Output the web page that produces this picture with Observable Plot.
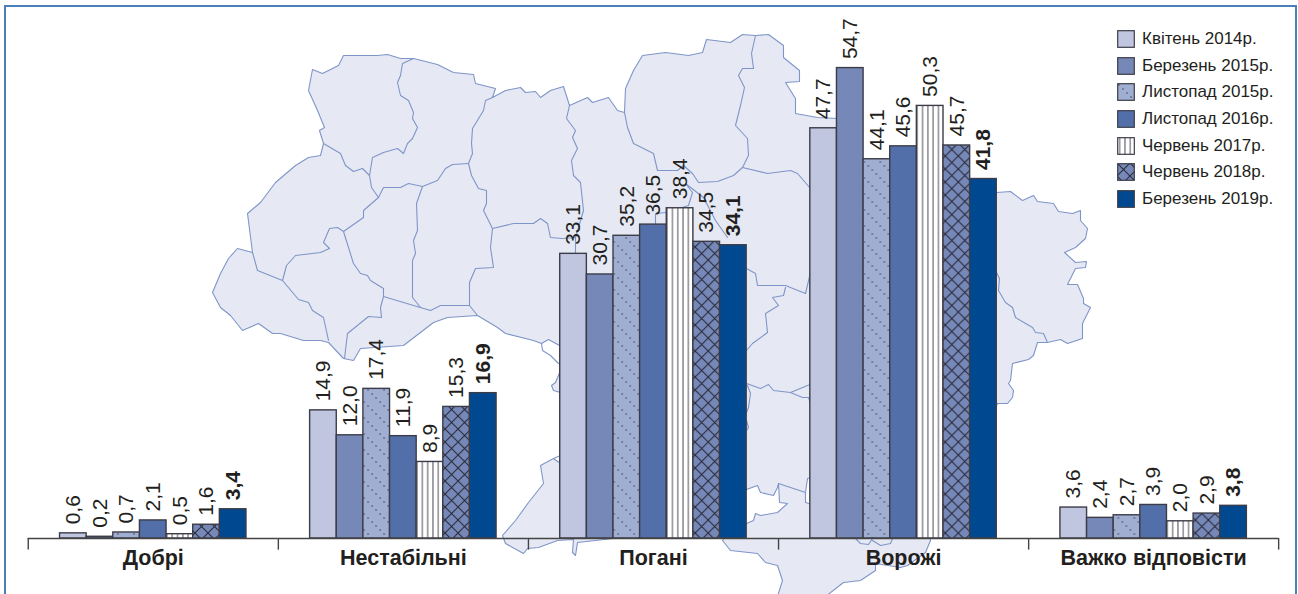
<!DOCTYPE html>
<html lang="uk">
<head>
<meta charset="utf-8">
<script src="https://cdn.jsdelivr.net/npm/d3@7"></script>
<script src="https://cdn.jsdelivr.net/npm/@observablehq/plot@0.6"></script>
<style>
  html, body { margin: 0; padding: 0; background: #fff; }
  #page { position: relative; width: 1298px; height: 594px; overflow: hidden; }
  #page > svg { position: absolute; left: 0; top: 0; }
  #frame { position: absolute; left: 4px; top: 5px; width: 1293px; height: 600px; box-sizing: border-box;
           border: 2px solid #4a7fb8; }
  #legend { position: absolute; left: 1117px; top: 25.5px; font-family: "Liberation Sans Narrow", "Liberation Sans", sans-serif;
            font-size: 17px; color: #231f20; }
  #legend div { display: flex; align-items: center; height: 26.7px; white-space: nowrap; }
  #legend svg { width: 18px; height: 18px; margin-right: 7px; flex: none; }
</style>
</head>
<body>
<div id="page"><div id="frame"></div></div>
<script>
const categories = ["Добрі", "Нестабільні", "Погані", "Ворожі", "Важко відповісти"];
const series = ["Квітень 2014р.", "Березень 2015р.", "Листопад 2015р.", "Листопад 2016р.", "Червень 2017р.", "Червень 2018р.", "Березень 2019р."];
const april2014 = [0.6, 14.9, 33.1, 47.7, 3.6];
const march2015 = [0.2, 12.0, 30.7, 54.7, 2.4];
const november2015 = [0.7, 17.4, 35.2, 44.1, 2.7];
const november2016 = [2.1, 11.9, 36.5, 45.6, 3.9];
const june2017 = [0.5, 8.9, 38.4, 50.3, 2.0];
const june2018 = [1.6, 15.3, 34.5, 45.7, 2.9];
const march2019 = [3.4, 16.9, 34.1, 41.8, 3.8];
const seriesValues = [april2014, march2015, november2015, november2016, june2017, june2018, march2019];
const seriesFills = ["#c1c6e0", "#7688b8", "url(#dots)", "#526fa9", "url(#stripes)", "url(#cross)", "#004990"];

// Decorative background map outline, in map units
const mapOutline = [[212,292],[220,273],[228,258],[237,248],[252,252],[247,213],[260,202],[275,182],[295,165],[308,157],[320,155],[323,143],[319,130],[324,127],[317,110],[308,90],[312,69],[322,73],[338,65],[343,55],[377,55],[387,54],[400,58],[413,58],[437,64],[453,72],[473,74],[475,83],[495,88],[492,97],[505,90],[520,87],[525,92],[535,91],[540,97],[550,90],[563,86],[569,105],[587,97],[592,102],[608,97],[617,110],[624,112],[625,88],[633,70],[642,55],[665,52],[688,55],[702,52],[706,39],[730,42],[742,34],[755,35],[768,34],[783,45],[783,57],[799,70],[799,81],[785,82],[795,98],[795,113],[817,117],[837,118],[850,125],[865,170],[890,175],[915,180],[960,185],[996,192],[1010,191],[1022,200],[1033,195],[1037,201],[1053,203],[1058,211],[1072,213],[1080,210],[1080,220],[1087,228],[1085,238],[1075,247],[1064,252],[1075,262],[1086,261],[1085,267],[1075,268],[1067,284],[1077,284],[1083,298],[1083,303],[1090,307],[1082,323],[1082,338],[1067,343],[1060,339],[1047,342],[1037,342],[1033,355],[1028,359],[1012,363],[1010,380],[1008,383],[1013,390],[1012,397],[1007,403],[997,403],[990,420],[960,480],[930,530],[930,540],[925,552],[907,565],[900,567],[875,563],[875,570],[860,580],[843,582],[825,596],[777,596],[782,580],[777,565],[765,562],[757,553],[730,550],[722,540],[730,530],[746,523],[577,542],[575,555],[572,552],[573,539],[557,540],[538,547],[527,548],[523,553],[505,543],[502,535],[515,520],[528,502],[543,483],[540,465],[553,458],[560,463],[590,420],[565,392],[560,392],[553,390],[551,385],[555,382],[560,370],[565,350],[559,345],[548,339],[541,343],[533,340],[505,333],[497,327],[477,315],[447,317],[433,322],[403,345],[360,348],[353,360],[343,358],[328,342],[320,340],[303,340],[280,333],[272,333],[258,323],[242,330],[230,315],[220,307],[212,292]];
const mapBay = [[740,491],[746,489],[757,485],[760,492],[773,495],[777,487],[778,483],[779,502],[787,503],[777,512],[760,515],[755,513],[753,520],[746,523],[740,526],[740,491]];
const mapSivash = [[805,502],[805,492],[807,478],[815,476],[815,505],[805,502]];
const mapBorders = [
  [[413,58],[402,63],[400,75],[397,82],[400,95],[408,100],[413,112],[412,118],[417,127],[412,138],[407,143],[403,153],[397,148],[383,152],[372,157],[369,175]],
  [[323,143],[340,153],[345,165],[353,171],[362,168],[369,175],[371,187],[378,197]],
  [[492,97],[485,100],[483,110],[472,128],[471,143],[472,153],[468,163]],
  [[378,197],[383,187],[400,187],[408,183],[422,186],[437,180],[445,168],[452,164],[468,163]],
  [[569,105],[566,118],[575,130],[572,137],[577,148],[571,160],[573,175],[580,182],[583,210],[575,237],[575,253]],
  [[468,163],[471,175],[478,188],[486,190],[486,203],[483,210],[492,228],[490,247],[493,267],[475,268],[469,282],[469,305],[477,315]],
  [[492,228],[513,223],[533,223],[540,218],[547,223],[550,237],[562,238],[575,237]],
  [[422,186],[416,203],[417,230],[413,240],[415,253],[412,260],[412,297],[420,307]],
  [[378,197],[363,210],[363,217],[343,231],[353,263],[360,273],[367,275],[370,280],[383,288],[383,296]],
  [[383,296],[403,302],[430,310],[440,305],[469,305]],
  [[343,231],[337,227],[329,228],[323,242],[329,248],[320,252],[295,255],[286,265],[282,280]],
  [[252,252],[257,270],[282,280],[298,299],[308,302],[312,310],[323,317],[328,340]],
  [[383,296],[380,307],[381,317],[368,316],[347,333],[344,358]],
  [[624,112],[627,127],[633,143],[653,153],[657,170],[677,170],[683,165],[692,173],[698,182],[717,181],[733,175],[742,167]],
  [[755,35],[751,53],[753,68],[742,68],[738,75],[744,87],[740,105],[735,125],[747,138],[748,155],[742,167]],
  [[742,167],[767,173],[790,170],[797,173],[810,188]],
  [[655,227],[655,213],[666,212],[688,205],[692,192],[685,183],[703,197],[715,220],[727,237]],
  [[746,268],[755,273],[757,285],[785,285],[805,293],[810,272]],
  [[785,287],[783,295],[772,297],[778,305],[765,313],[767,332],[752,343],[746,350]],
  [[746,383],[760,388],[768,384],[773,390],[790,392],[807,385],[810,384]],
  [[790,392],[802,397],[808,397],[810,403]],
  [[747,385],[750,393],[748,407],[746,412]],
  [[746,420],[748,427],[746,430]],
  [[541,343],[542,350],[550,355],[558,363]],
  [[553,458],[560,455]],
  [[996,272],[999,278],[998,290],[1005,302],[1012,307],[1015,317],[1032,327],[1035,332],[1043,333],[1047,342]],
  [[778,483],[790,487],[805,492]],
  [[855,538],[860,543],[868,544],[872,538]],
  [[872,540],[880,545],[890,543],[892,538]]
];

const mapFill = "#e6e9f4", mapStroke = "#7f95c8";
const toRows = (pts, id) => pts.map(([x, y]) => ({x, y, id}));

const mapPlot = Plot.plot({
  width: 1298, height: 594, margin: 0,
  x: {domain: [0, 1298], axis: null},
  y: {domain: [0, 594], range: [0, 594], axis: null},
  style: {background: "transparent"},
  marks: [
    Plot.line(toRows(mapOutline, "land"), {x: "x", y: "y", fill: mapFill, stroke: mapStroke, strokeWidth: 1.1}),
    Plot.line(toRows(mapBay, "bay"), {x: "x", y: "y", fill: "#fff", stroke: mapStroke, strokeWidth: 1.1}),
    Plot.line(toRows(mapSivash, "sivash"), {x: "x", y: "y", fill: "#fff", stroke: mapStroke, strokeWidth: 1.1}),
    Plot.line(mapBorders.flatMap((b, i) => toRows(b, i)), {x: "x", y: "y", z: "id", stroke: mapStroke, strokeWidth: 1.1})
  ]
});

const rows = categories.flatMap((category, c) =>
  series.map((s, i) => ({category, series: s, value: seriesValues[i][c], latest: i === series.length - 1})));
const fmt = d => d.value.toFixed(1).replace(".", ",");
const inkText = "#231f20";

const chart = Plot.plot({
  width: 1298, height: 594,
  marginLeft: 27.7, marginRight: 19.8, marginTop: 22, marginBottom: 56,
  style: {background: "transparent", fontFamily: "'Liberation Sans', Arial, sans-serif", color: inkText},
  fx: {domain: categories, padding: 0, round: false, label: null},
  x: {domain: series, paddingInner: 0, paddingOuter: 1.195, round: false, axis: null},
  y: {domain: [0, 60], axis: null},
  color: {type: "ordinal", domain: series, range: seriesFills},
  marks: [
    Plot.barY(rows, {fx: "category", x: "series", y: "value", fill: "series", stroke: "#3c3c48", strokeWidth: 1.4}),
    Plot.ruleY([0], {stroke: "#444", strokeWidth: 1.4}),
    Plot.ruleX(categories, {fx: d => d, x: () => series[0], y1: 0, y2: -1.35, dx: -45.1, stroke: "#444", strokeWidth: 1.4}),
    Plot.ruleX(categories.slice(-1), {fx: d => d, x: () => series[0], y1: 0, y2: -1.35, dx: 204.9, stroke: "#444", strokeWidth: 1.4}),
    Plot.text(rows.filter(d => !d.latest), {fx: "category", x: "series", y: "value", text: fmt, rotate: -90, textAnchor: "start", dy: -9, fontSize: 21, fill: inkText}),
    Plot.text(rows.filter(d => d.latest), {fx: "category", x: "series", y: "value", text: fmt, rotate: -90, textAnchor: "start", dy: -9, fontSize: 21, fontWeight: "bold", fill: inkText}),
    Plot.axisFx({anchor: "bottom", label: null, tickSize: 0, tickPadding: 11, fontSize: 21.5, fontWeight: "bold", fill: inkText})
  ]
});

// Hatch fills used by the bars and the legend
const defs = d3.select(chart).insert("defs", ":first-child");
const dots = defs.append("pattern").attr("id", "dots").attr("patternUnits", "userSpaceOnUse").attr("width", 16).attr("height", 16);
dots.append("rect").attr("width", 16).attr("height", 16).attr("fill", "#a0aed2");
[2, 6, 10, 14].forEach(p => dots.append("circle").attr("cx", p).attr("cy", p).attr("r", 0.65).attr("fill", "#2a2a3a"));
const stripes = defs.append("pattern").attr("id", "stripes").attr("patternUnits", "userSpaceOnUse").attr("width", 5.3).attr("height", 10);
stripes.append("rect").attr("width", 5.3).attr("height", 10).attr("fill", "#fff");
stripes.append("rect").attr("x", 2).attr("width", 1.3).attr("height", 10).attr("fill", "#77777f");
const cross = defs.append("pattern").attr("id", "cross").attr("patternUnits", "userSpaceOnUse").attr("width", 13).attr("height", 13);
cross.append("rect").attr("width", 13).attr("height", 13).attr("fill", "#7688b8");
cross.append("path").attr("d", "M0,0L13,13M13,0L0,13").attr("stroke", "#2a2a3a").attr("stroke-width", 1.1);

const page = document.getElementById("page");
page.append(mapPlot, chart);

const legend = d3.select(page).append("div").attr("id", "legend");
series.forEach((s, i) => {
  const row = legend.append("div");
  const sw = row.append("svg").attr("viewBox", "0 0 18 18");
  sw.append("rect").attr("x", .7).attr("y", .7).attr("width", 16.6).attr("height", 16.6)
    .attr("fill", seriesFills[i]).attr("stroke", "#3c3c48").attr("stroke-width", 1.2);
  row.append("span").text(s);
});
</script>
</body>
</html>
